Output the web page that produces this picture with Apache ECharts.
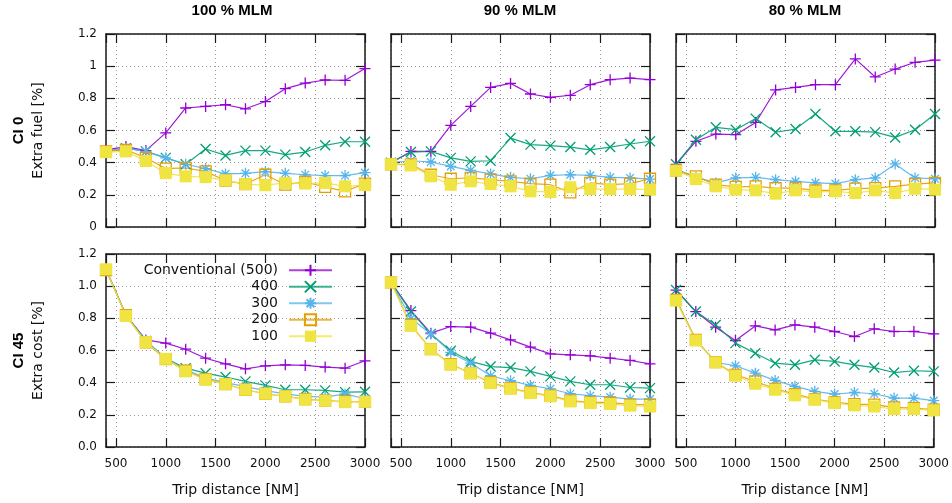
<!DOCTYPE html>
<html>
<head>
<meta charset="utf-8">
<title>Extra fuel / extra cost vs trip distance</title>
<script src="https://cdn.jsdelivr.net/npm/echarts@6/dist/echarts.min.js"></script>
<style>
    html, body { margin: 0; padding: 0; background: #fff; }
    #chart { width: 952px; height: 503px; }
</style>
</head>
<body>
<div id="chart"></div>
<script>
// x values (trip distance, NM)
const distances = [400, 600, 800, 1000, 1200, 1400, 1600, 1800, 2000, 2200, 2400, 2600, 2800, 3000]
const seriesNames = ['Conventional (500)', '400', '300', '200', '100']
const columnTitles = ['100 % MLM', '90 % MLM', '80 % MLM']
const rowTitles = ['CI 0', 'CI 45']
const rowAxisNames = ['Extra fuel [%]', 'Extra cost [%]']
const xTickValues = [500, 1000, 1500, 2000, 2500, 3000]
const fuelTickLabels = ['0', '0.2', '0.4', '0.6', '0.8', '1', '1.2']
const costTickLabels = ['0.0', '0.2', '0.4', '0.6', '0.8', '1.0', '1.2']

// CI 0 - extra fuel, 100 % MLM
const fuel100_500 = [0.48, 0.50, 0.475, 0.585, 0.74, 0.75, 0.76, 0.735, 0.78, 0.86, 0.895, 0.914, 0.912, 0.985]
const fuel100_400 = [0.47, 0.49, 0.47, 0.43, 0.39, 0.485, 0.445, 0.475, 0.475, 0.45, 0.466, 0.508, 0.53, 0.53]
const fuel100_300 = [0.47, 0.49, 0.47, 0.43, 0.39, 0.363, 0.33, 0.334, 0.344, 0.334, 0.325, 0.32, 0.32, 0.338]
const fuel100_200 = [0.47, 0.48, 0.43, 0.363, 0.367, 0.346, 0.288, 0.267, 0.325, 0.263, 0.28, 0.249, 0.222, 0.27]
const fuel100_100 = [0.465, 0.47, 0.41, 0.335, 0.315, 0.31, 0.29, 0.267, 0.26, 0.274, 0.27, 0.274, 0.253, 0.26]
// CI 0 - extra fuel, 90 % MLM
const fuel90_500 = [0.40, 0.47, 0.47, 0.632, 0.75, 0.868, 0.893, 0.827, 0.806, 0.819, 0.885, 0.916, 0.926, 0.916]
const fuel90_400 = [0.40, 0.466, 0.47, 0.43, 0.408, 0.412, 0.553, 0.512, 0.506, 0.497, 0.48, 0.497, 0.516, 0.533]
const fuel90_300 = [0.40, 0.412, 0.404, 0.377, 0.352, 0.33, 0.309, 0.30, 0.321, 0.325, 0.321, 0.309, 0.305, 0.298]
const fuel90_200 = [0.39, 0.39, 0.325, 0.30, 0.305, 0.294, 0.284, 0.27, 0.263, 0.215, 0.274, 0.263, 0.27, 0.30]
const fuel90_100 = [0.39, 0.383, 0.315, 0.263, 0.284, 0.267, 0.253, 0.222, 0.218, 0.247, 0.236, 0.236, 0.236, 0.232]
// CI 0 - extra fuel, 80 % MLM
const fuel80_500 = [0.39, 0.533, 0.578, 0.574, 0.65, 0.852, 0.868, 0.885, 0.885, 1.045, 0.933, 0.982, 1.024, 1.038]
const fuel80_400 = [0.39, 0.543, 0.62, 0.605, 0.674, 0.589, 0.609, 0.703, 0.595, 0.595, 0.59, 0.557, 0.605, 0.703]
const fuel80_300 = [0.36, 0.31, 0.274, 0.305, 0.309, 0.294, 0.284, 0.274, 0.27, 0.294, 0.305, 0.392, 0.305, 0.30]
const fuel80_200 = [0.35, 0.315, 0.263, 0.249, 0.253, 0.242, 0.242, 0.228, 0.228, 0.238, 0.242, 0.253, 0.267, 0.274]
const fuel80_100 = [0.35, 0.298, 0.253, 0.232, 0.228, 0.207, 0.228, 0.218, 0.222, 0.211, 0.228, 0.211, 0.238, 0.232]

// CI 45 - extra cost, 100 % MLM
const cost100_500 = [1.105, 0.82, 0.666, 0.646, 0.608, 0.552, 0.517, 0.486, 0.505, 0.511, 0.507, 0.497, 0.49, 0.536]
const cost100_400 = [1.105, 0.82, 0.66, 0.552, 0.49, 0.459, 0.435, 0.408, 0.383, 0.356, 0.356, 0.352, 0.341, 0.343]
const cost100_300 = [1.105, 0.82, 0.66, 0.55, 0.48, 0.43, 0.40, 0.375, 0.35, 0.33, 0.315, 0.31, 0.33, 0.30]
const cost100_200 = [1.10, 0.82, 0.65, 0.546, 0.474, 0.422, 0.391, 0.356, 0.331, 0.315, 0.298, 0.288, 0.283, 0.28]
const cost100_100 = [1.105, 0.815, 0.652, 0.548, 0.47, 0.418, 0.391, 0.356, 0.331, 0.315, 0.294, 0.288, 0.279, 0.281]
// CI 45 - extra cost, 90 % MLM
const cost90_500 = [1.024, 0.848, 0.708, 0.749, 0.745, 0.708, 0.666, 0.621, 0.579, 0.573, 0.567, 0.552, 0.538, 0.517]
const cost90_400 = [1.024, 0.842, 0.703, 0.598, 0.532, 0.50, 0.494, 0.47, 0.439, 0.408, 0.387, 0.387, 0.37, 0.366]
const cost90_300 = [1.024, 0.80, 0.703, 0.588, 0.521, 0.443, 0.412, 0.383, 0.362, 0.331, 0.319, 0.31, 0.298, 0.298]
const cost90_200 = [1.024, 0.759, 0.608, 0.515, 0.459, 0.401, 0.366, 0.339, 0.319, 0.288, 0.277, 0.277, 0.263, 0.263]
const cost90_100 = [1.024, 0.753, 0.608, 0.511, 0.459, 0.397, 0.362, 0.335, 0.315, 0.283, 0.273, 0.267, 0.257, 0.252]
// CI 45 - extra cost, 80 % MLM
const cost80_500 = [0.976, 0.842, 0.745, 0.662, 0.753, 0.728, 0.759, 0.745, 0.718, 0.687, 0.735, 0.718, 0.718, 0.703]
const cost80_400 = [0.976, 0.842, 0.759, 0.646, 0.583, 0.521, 0.511, 0.542, 0.532, 0.511, 0.494, 0.463, 0.474, 0.47]
const cost80_300 = [0.92, 0.666, 0.526, 0.505, 0.459, 0.414, 0.377, 0.346, 0.329, 0.339, 0.331, 0.304, 0.304, 0.288]
const cost80_200 = [0.915, 0.666, 0.528, 0.449, 0.408, 0.362, 0.329, 0.298, 0.277, 0.267, 0.263, 0.246, 0.242, 0.232]
const cost80_100 = [0.91, 0.662, 0.526, 0.443, 0.393, 0.356, 0.321, 0.294, 0.273, 0.259, 0.252, 0.236, 0.236, 0.228]

// panels, row by row
const panels = [
    [fuel100_500, fuel100_400, fuel100_300, fuel100_200, fuel100_100],
    [fuel90_500, fuel90_400, fuel90_300, fuel90_200, fuel90_100],
    [fuel80_500, fuel80_400, fuel80_300, fuel80_200, fuel80_100],
    [cost100_500, cost100_400, cost100_300, cost100_200, cost100_100],
    [cost90_500, cost90_400, cost90_300, cost90_200, cost90_100],
    [cost80_500, cost80_400, cost80_300, cost80_200, cost80_100]
]

// gnuplot-like look
const colors = ['#9400d3', '#009e73', '#56b4e9', '#e69f00', '#f0e442']
const symbols = [
    'path://M5,0L5,10M0,5L10,5',
    'path://M0,0L10,10M10,0L0,10',
    'path://M5,0L5,10M0,5L10,5M1.5,1.5L8.5,8.5M8.5,1.5L1.5,8.5',
    'path://M0,0L10,0L10,10L0,10Z',
    'rect'
]
const symbolSizes = [11, 10, 11, 11, 12]
const FONT = 'DejaVu Sans'
const BOLD_FONT = 'Liberation Sans'
const frameColor = '#1a1a1a'

const gridLefts = [106, 391, 676]
const gridTops = [34, 254]
const gridW = 259
const gridH = 193

const grid = []
const xAxis = []
const yAxis = []
const series = []

const axisLine = { show: true, onZero: false, lineStyle: { color: frameColor, width: 1.5 } }
const axisTick = { show: true, inside: true, length: 9, lineStyle: { color: frameColor, width: 1.2 } }
const splitLine = { show: true, lineStyle: { color: '#9a9a9a', width: 1, type: [1, 3] } }

for (let r = 0; r < 2; r++) {
    for (let c = 0; c < 3; c++) {
        const p = r * 3 + c
        grid.push({ left: gridLefts[c], top: gridTops[r], width: gridW, height: gridH })

        const xBase = {
            type: 'value', gridIndex: p, min: 400, max: 3000,
            minInterval: 500, maxInterval: 500,
            axisLine: axisLine, axisTick: axisTick
        }
        xAxis.push(Object.assign({}, xBase, {
            position: 'bottom',
            splitLine: splitLine,
            axisLabel: {
                show: r === 1, margin: 11, fontFamily: FONT, fontSize: 12, color: '#111',
                formatter: v => xTickValues.includes(v) ? String(v) : ''
            },
            name: r === 1 ? 'Trip distance [NM]' : '',
            nameLocation: 'middle', nameGap: 36,
            nameTextStyle: { fontFamily: FONT, fontSize: 14, color: '#111' }
        }))
        xAxis.push(Object.assign({}, xBase, {
            position: 'top', splitLine: { show: false }, axisLabel: { show: false }
        }))

        const labels = r === 0 ? fuelTickLabels : costTickLabels
        const yBase = {
            type: 'value', gridIndex: p, min: 0, max: 1.2, interval: 0.2,
            axisLine: axisLine, axisTick: axisTick
        }
        yAxis.push(Object.assign({}, yBase, {
            position: 'left',
            splitLine: splitLine,
            axisLabel: {
                show: c === 0, margin: 9, fontFamily: FONT, fontSize: 12, color: '#111',
                formatter: v => labels[Math.round(v / 0.2)]
            }
        }))
        yAxis.push(Object.assign({}, yBase, {
            position: 'right', splitLine: { show: false }, axisLabel: { show: false }
        }))

        panels[p].forEach((vals, s) => {
            const col = colors[s]
            let itemStyle
            if (s === 3) itemStyle = { color: 'rgba(0,0,0,0)', borderColor: col, borderWidth: 1.3 }
            else if (s === 4) itemStyle = { color: col, borderWidth: 0 }
            else itemStyle = { color: col, borderColor: col, borderWidth: 1.3 }
            series.push({
                name: seriesNames[s],
                type: 'line',
                xAxisIndex: p * 2,
                yAxisIndex: p * 2,
                data: distances.map((d, k) => [d, vals[k]]),
                symbol: symbols[s],
                symbolSize: symbolSizes[s],
                showAllSymbol: true,
                clip: false,
                silent: true,
                itemStyle: itemStyle,
                lineStyle: { color: col, width: 1.2, opacity: 0.9 },
                emphasis: { disabled: true }
            })
        })
    }
}

// column titles and row labels
const graphic = []
const titleX = [232, 520, 805]
columnTitles.forEach((t, i) => {
    graphic.push({
        type: 'text', x: titleX[i], y: 11,
        style: { text: t, font: 'bold 15px "' + BOLD_FONT + '"', fill: '#000', align: 'center', verticalAlign: 'middle' }
    })
})
rowTitles.forEach((t, r) => {
    const cy = gridTops[r] + gridH / 2
    graphic.push({
        type: 'text', x: 19, y: cy, rotation: Math.PI / 2,
        style: { text: t, font: 'bold 15px "' + BOLD_FONT + '"', fill: '#000', align: 'center', verticalAlign: 'middle' }
    })
    graphic.push({
        type: 'text', x: 38, y: cy, rotation: Math.PI / 2,
        style: { text: rowAxisNames[r], font: '14px "' + FONT + '"', fill: '#111', align: 'center', verticalAlign: 'middle' }
    })
})

const myChart = echarts.init(document.getElementById('chart'))
myChart.setOption({
    animation: false,
    backgroundColor: '#fff',
    grid: grid,
    xAxis: xAxis,
    yAxis: yAxis,
    series: series,
    graphic: graphic,
    legend: {
        data: seriesNames,
        orient: 'vertical',
        align: 'right',
        right: 619,
        top: 262,
        padding: 0,
        itemWidth: 43,
        itemHeight: 14,
        itemGap: 0,
        selectedMode: false,
        lineStyle: { width: 2, opacity: 0.75 },
        textStyle: { fontFamily: FONT, fontSize: 14, lineHeight: 16.5, color: '#111', padding: [0, 6, 0, 0] }
    }
})
</script>
</body>
</html>
